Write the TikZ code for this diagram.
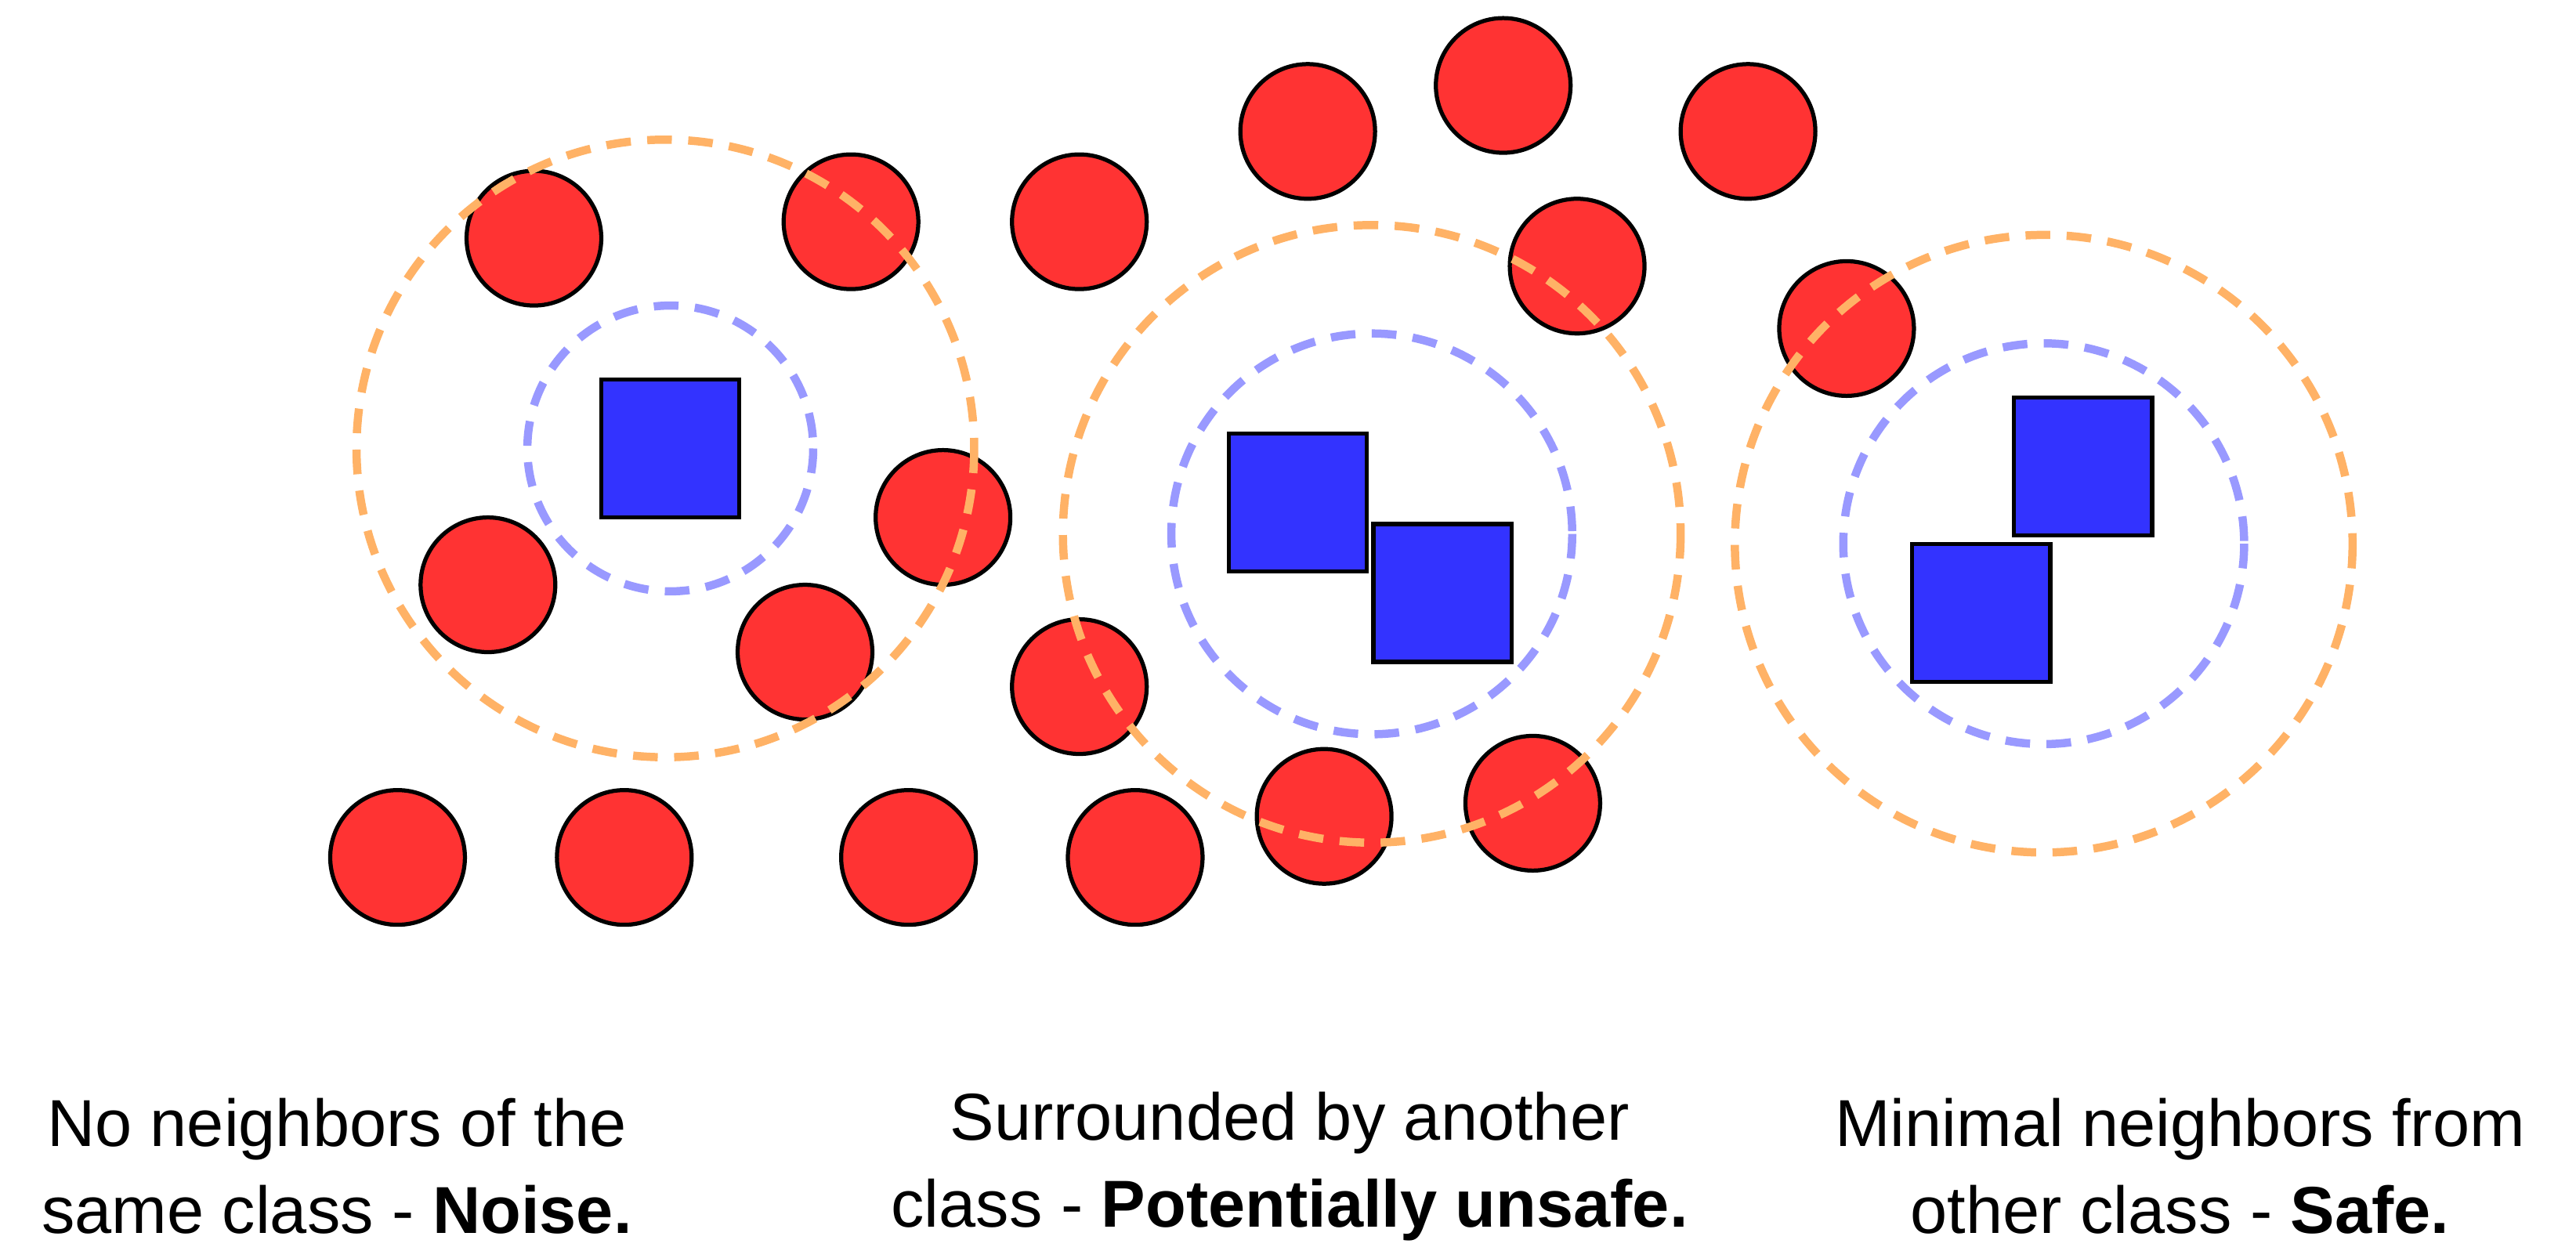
\documentclass[tikz,border=0pt]{standalone}
\usepackage{fontspec}
\setmainfont{Liberation Sans}
\begin{document}
\begin{tikzpicture}[x=0.1mm,y=-0.1mm,
  red/.style={circle,draw=black,line width=0.25mm,fill={rgb,255:red,255;green,51;blue,51},minimum size=8.2mm,inner sep=0},
  blue/.style={rectangle,draw=black,line width=0.25mm,fill={rgb,255:red,51;green,51;blue,255},minimum size=8.4mm,inner sep=0},
  orng/.style={draw={rgb,255:red,255;green,178;blue,102},line width=0.5mm,dash pattern=on 1.5mm off 1mm},
  lblu/.style={draw={rgb,255:red,153;green,153;blue,255},line width=0.5mm,dash pattern=on 1.5mm off 1mm},
  lab/.style={font=\fontsize{11.5pt}{15pt}\selectfont,align=center}]
\useasboundingbox (0,0) rectangle (1568,765.4);
\foreach \x/\y [count=\i] in {325/145,518/135,657/135,796/80,915/52,1064/80,960/162,1124/200,574/315,297/356,490/397,657/418,242/522,380/522,553/522,691/522,806/497,933/489}
  \node[red] (r\i) at (\x,\y) {};
\node[blue] (b1) at (408,273) {};
\node[blue] (b2) at (790,306) {};
\node[blue] (b3) at (878,361) {};
\node[blue] (b4) at (1268,284) {};
\node[blue] (b5) at (1206,373) {};
\draw[orng] (405,273) circle (188);
\draw[orng] (835,325) circle (188);
\draw[orng] (1244,331) circle (188);
\draw[lblu] (408,273) circle (87);
\draw[lblu] (835,325) circle (122);
\draw[lblu] (1244,331) circle (122);
\node[lab] (t1) at (205,710) {No neighbors of the\\same class - \textbf{Noise.}};
\node[lab] (t2) at (785,710) {Surrounded by another\\class - \textbf{Potentially unsafe.}};
\node[lab] (t3) at (1327,710) {Minimal neighbors from\\other class - \textbf{Safe.}};
\end{tikzpicture}
\end{document}
